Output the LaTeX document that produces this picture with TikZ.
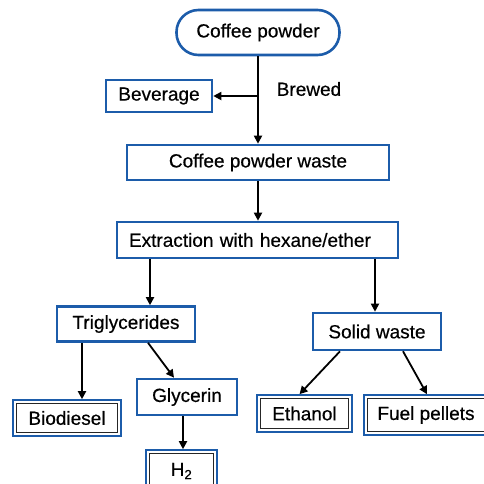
\documentclass[tikz,border=0pt]{standalone}
\usepackage{fontspec}
\setmainfont{Liberation Sans}[BoldFont={Liberation Sans},BoldFeatures={FakeBold=0.5}]
\usetikzlibrary{arrows.meta}
\definecolor{boxblue}{RGB}{28,92,170}
\begin{document}
\begin{tikzpicture}[x=1pt,y=-1pt,
  every node/.style={font=\fontsize{19}{22}\selectfont\bfseries, inner sep=0pt},
  box/.style={draw=boxblue, line width=2.6pt, fill=white, minimum width=#1},
  dbox/.style={draw=boxblue, line width=1.6pt, fill=white, minimum width=#1},
  innerline/.style={draw=black!85, line width=0.9pt},
  arr/.style={line width=1.8pt, -{Triangle[length=8pt,width=8pt]}},
  ln/.style={line width=1.8pt}]
\useasboundingbox (0,0) rectangle (484,483);
\node[box=163pt, minimum height=45pt, rounded corners=22pt] (cp) at (258,32.5) {Coffee powder};
\node[box=106pt, minimum height=32pt] (bev) at (159,96) {Beverage};
\node (brew) at (309,89) {Brewed};
\node[box=262pt, minimum height=35pt] (cpw) at (258,162.5) {Coffee powder waste};
\node[box=281pt, minimum height=36pt, text width=257pt, align=left, inner xsep=12pt] (ext) at (257.5,240) {Extraction with hexane/ether};
\node[box=138pt, minimum height=35pt] (tri) at (126,324) {Triglycerides};
\node[box=128pt, minimum height=37pt] (sw) at (377,331.5) {Solid waste};
\node[box=100pt, minimum height=36pt] (gly) at (187,397) {Glycerin};
\node[dbox=108pt, minimum height=36pt] (bio) at (67,418) {Biodiesel};
\node[dbox=71pt, minimum height=42pt] (h2) at (181.5,471) {H\textsubscript{2}};
\node[dbox=95pt, minimum height=37pt] (eth) at (304.5,413.5) {Ethanol};
\node[dbox=124pt, minimum height=40pt] (fuel) at (426,415) {Fuel pellets};
\foreach \n in {bio,h2,eth,fuel}
  \draw[innerline] ([shift={(4pt,4pt)}]\n.south west) rectangle ([shift={(-4pt,-4pt)}]\n.north east);
\coordinate (br) at (cp.south |- bev.east);
\draw[arr] (cp.south) -- (cpw.north);
\draw[arr] (br) -- (bev.east);
\draw[arr] (cpw.south) -- (ext.north -| cpw.south);
\draw[arr] (ext.south -| tri.north) ++(24pt,0) -- ([xshift=24pt]tri.north);
\draw[arr] (ext.south -| sw.north) ++(-2pt,0) -- ([xshift=-2pt]sw.north);
\draw[arr] ([xshift=-44pt]tri.south) -- ([xshift=15pt]bio.north);
\draw[arr] ([xshift=22pt]tri.south) -- ([xshift=-13pt]gly.north);
\draw[arr] ([xshift=-4pt]gly.south) -- ([xshift=1.5pt]h2.north);
\draw[arr] ([xshift=-37pt]sw.south) -- ([xshift=-5pt]eth.north);
\draw[arr] ([xshift=26pt]sw.south) -- ([xshift=1pt]fuel.north);
\end{tikzpicture}
\end{document}
